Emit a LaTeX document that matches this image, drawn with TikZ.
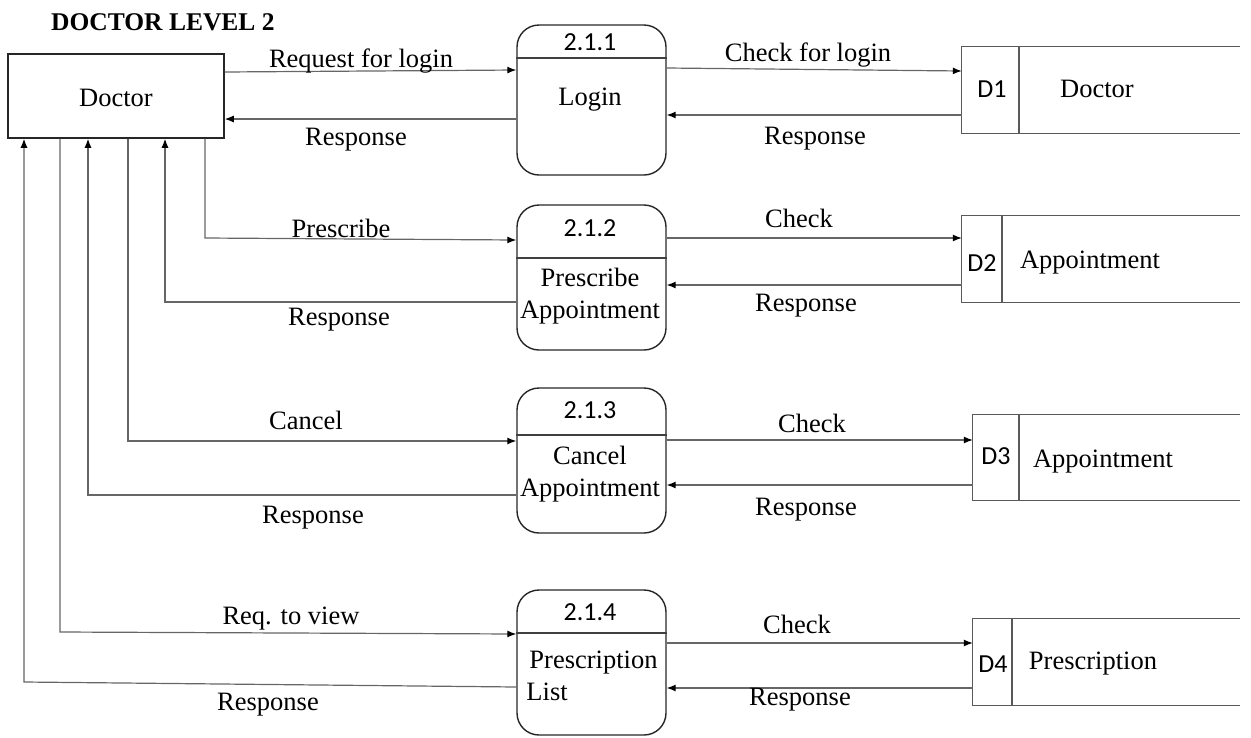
\documentclass[tikz,border=0pt]{standalone}
\usepackage{fontspec}
\setmainfont{Liberation Serif}
\newfontfamily\calibrifont{Carlito}
\usetikzlibrary{arrows.meta}
\begin{document}
\begin{tikzpicture}[x=1pt,y=-1pt,
  font=\fontsize{26.5}{32}\selectfont,
  extbox/.style={draw=black!85,line width=1.5pt,minimum width=216pt,minimum height=84pt,inner sep=0pt},
  procbox/.style={draw=black!85,line width=1.4pt,rounded corners=22pt,minimum width=149pt,inner sep=0pt},
  storearea/.style={minimum height=86pt,inner sep=0pt},
  storeline/.style={draw=black!65,line width=1.3pt},
  flow/.style={draw=black!60,line width=1.2pt,-{Latex[length=9pt,width=7pt,black]}},
  lbl/.style={inner sep=0pt},
  idlbl/.style={inner sep=0pt,font=\calibrifont\fontsize{26}{30}\selectfont}]
\useasboundingbox (0,0) rectangle (1251,737);

% title
\node[lbl,anchor=west,font=\bfseries\fontsize{25.5}{30}\selectfont] (title) at (51,22) {DOCTOR LEVEL 2};

% external entity
\node[extbox] (doc) at (116,96) {};
\node[lbl] (doct) at (116,98) {Doctor};

% processes
\node[procbox,minimum height=150pt] (p1) at (591.5,100) {};
\node[procbox,minimum height=145pt] (p2) at (591.5,277.5) {};
\node[procbox,minimum height=145pt] (p3) at (591.5,460.5) {};
\node[procbox,minimum height=145pt] (p4) at (591.5,662.5) {};
\draw[draw=black!75,line width=1.2pt] (p1.west |- 0,58) -- (p1.east |- 0,58);
\draw[draw=black!75,line width=1.2pt] (p2.west |- 0,258) -- (p2.east |- 0,258);
\draw[draw=black!75,line width=1.2pt] (p3.west |- 0,435) -- (p3.east |- 0,435);
\draw[draw=black!75,line width=1.2pt] (p4.west |- 0,633) -- (p4.east |- 0,633);
\node[idlbl] (p1id) at (590,42) {2.1.1};
\node[lbl] (p1t) at (590,100) {Login};
\node[idlbl] (p2id) at (590,228) {2.1.2};
\node[lbl,align=center] (p2t) at (590,296) {Prescribe\\Appointment};
\node[idlbl] (p3id) at (590,410) {2.1.3};
\node[lbl,align=center] (p3t) at (590,474) {Cancel\\Appointment};
\node[idlbl] (p4id) at (590,612) {2.1.4};
\node[lbl,align=left] (p4t) at (592,676) {\hspace*{3pt}Prescription\\List};

% data stores
\node[storearea,minimum width=278pt] (d1) at (1101,90) {};
\node[storearea,minimum width=278pt] (d2) at (1101,259) {};
\node[storearea,minimum width=267pt,minimum height=85pt] (d3) at (1106.5,457.5) {};
\node[storearea,minimum width=267pt] (d4) at (1106.5,662) {};
\foreach \s/\dx in {d1/1019,d2/1002,d3/1019,d4/1012}{
  \draw[storeline] (\s.north east) -- (\s.north west) -- (\s.south west) -- (\s.south east);
  \draw[storeline] (\s.north -| \dx,0) -- (\s.south -| \dx,0);
}
\node[idlbl] (d1id) at (992,89) {D1};
\node[lbl] (d1t) at (1097,89) {Doctor};
\node[idlbl] (d2id) at (982,263) {D2};
\node[lbl] (d2t) at (1090,263) {Appointment};
\node[idlbl] (d3id) at (996,456) {D3};
\node[lbl] (d3t) at (1103,462) {Appointment};
\node[idlbl] (d4id) at (993,664) {D4};
\node[lbl] (d4t) at (1093,664) {Prescription};

% flows doctor <-> processes
\draw[flow] (doc.east |- 0,72) -- (p1.west |- 0,70);
\draw[flow] (p1.west |- 0,119) -- (doc.east |- 0,119);
\draw[flow] (doc.south -| 205,0) -- (205,238) -- (p2.west |- 0,240);
\draw[flow] (p2.west |- 0,302) -- (165,302) -- (doc.south -| 165,0);
\draw[flow] (doc.south -| 128,0) -- (128,441) -- (p3.west |- 0,441);
\draw[flow] (p3.west |- 0,495) -- (88,495) -- (doc.south -| 88,0);
\draw[flow] (doc.south -| 60,0) -- (60,632) -- (p4.west |- 0,634);
\draw[flow] (p4.west |- 0,687) -- (24,682) -- (doc.south -| 24,0);

% flows processes <-> stores
\draw[flow] (p1.east |- 0,68) -- (d1.west |- 0,71);
\draw[flow] (d1.west |- 0,115) -- (p1.east |- 0,115);
\draw[flow] (p2.east |- 0,238) -- (d2.west |- 0,238);
\draw[flow] (d2.west |- 0,285) -- (p2.east |- 0,285);
\draw[flow] (p3.east |- 0,440) -- (d3.west |- 0,440);
\draw[flow] (d3.west |- 0,485) -- (p3.east |- 0,485);
\draw[flow] (p4.east |- 0,643) -- (d4.west |- 0,643);
\draw[flow] (d4.west |- 0,688) -- (p4.east |- 0,688);

% flow labels
\node[lbl] (l1) at (361,61) {Request for login};
\node[lbl] (l2) at (356,140) {Response};
\node[lbl] (l3) at (808,55) {Check for login};
\node[lbl] (l4) at (815,139) {Response};
\node[lbl] (l5) at (341,228) {Prescribe};
\node[lbl] (l6) at (339,320) {Response};
\node[lbl] (l7) at (799,218) {Check};
\node[lbl] (l8) at (806,306) {Response};
\node[lbl] (l9) at (306,420) {Cancel};
\node[lbl] (l10) at (313,518) {Response};
\node[lbl] (l11) at (812,423) {Check};
\node[lbl] (l12) at (806,510) {Response};
\node[lbl] (l13) at (291,619) {Req. to view};
\node[lbl] (l14) at (268,705) {Response};
\node[lbl] (l15) at (797,624) {Check};
\node[lbl] (l16) at (800,700) {Response};
\end{tikzpicture}
\end{document}
